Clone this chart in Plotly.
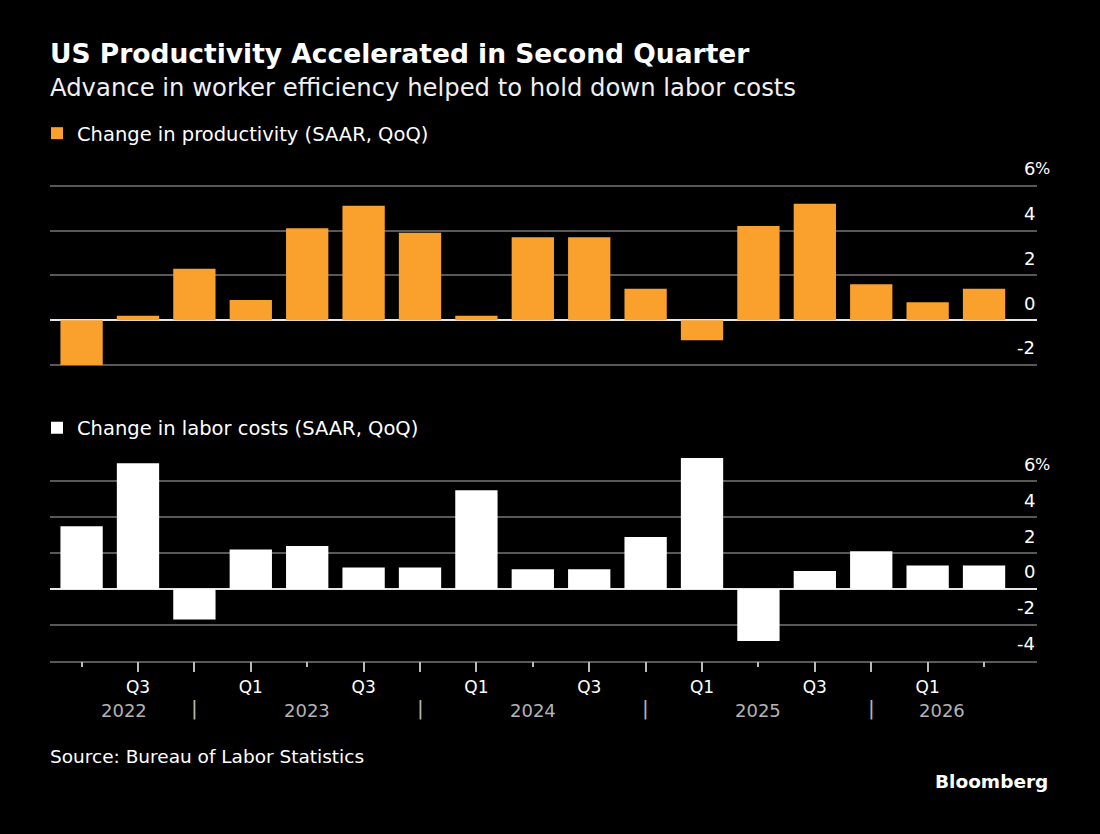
import numpy as np
import plotly.graph_objects as go

# quarters shown on the axis, Q2 2022 .. Q2 2026
quarters = ["Q2", "Q3", "Q4", "Q1", "Q2", "Q3", "Q4", "Q1", "Q2",
            "Q3", "Q4", "Q1", "Q2", "Q3", "Q4", "Q1", "Q2"]
years = ["2022", "2022", "2022", "2023", "2023", "2023", "2023", "2024", "2024",
         "2024", "2024", "2025", "2025", "2025", "2025", "2026", "2026"]

# change in productivity, SAAR QoQ (%)
productivity = [-2.0, 0.2, 2.3, 0.9, 4.1, 5.1, 3.9, 0.2, 3.7,
                3.7, 1.4, -0.9, 4.2, 5.2, 1.6, 0.8, 1.4]
# change in unit labor costs, SAAR QoQ (%)
labor_costs = [3.5, 7.0, -1.7, 2.2, 2.4, 1.2, 1.2, 5.5, 1.1,
               1.1, 2.9, 7.3, -2.9, 1.0, 2.1, 1.3, 1.3]

top_ticks = [-2, 0, 2, 4, 6]
bottom_ticks = [-4, -2, 0, 2, 4, 6]

FONT = "DejaVu Sans, sans-serif"
ORANGE = "#F9A12C"
GRID = "#585858"
BG = "#000000"
H = 834

x = np.arange(len(quarters))
xrange_ = [-0.56, 16.93]

fig = go.Figure()
fig.add_trace(go.Bar(x=x, y=productivity, marker_color=ORANGE, marker_line_width=0,
                     name="Change in productivity (SAAR, QoQ)", xaxis="x", yaxis="y",
                     legend="legend"))
fig.add_trace(go.Bar(x=x, y=labor_costs, marker_color="#FFFFFF", marker_line_width=0,
                     name="Change in labor costs (SAAR, QoQ)", xaxis="x2", yaxis="y2",
                     legend="legend2"))

# major ticks at every quarter except Q2, labels only on Q1/Q3
major = [i for i, q in enumerate(quarters) if q != "Q2"]
minor = [i for i, q in enumerate(quarters) if q == "Q2"]
major_text = [quarters[i] if quarters[i] in ("Q1", "Q3") else "" for i in major]

# pixel rows of the panels: top 6 -> 185.7, -2 -> 365 ; bottom 6 -> 481.3, -4 -> 660.7
top_pu = (365 - 185.7) / 8
bot_pu = (660.7 - 481.3) / 10
top_range = [-2.05, 6.05]
bot_range = [-4, 7.5]
top_dom = [1 - (365 + 0.05 * top_pu) / H, 1 - (185.7 - 0.05 * top_pu) / H]
bot_dom = [1 - 660.7 / H, 1 - (660.7 - 11.5 * bot_pu) / H]

xdom = [50 / 1100, 1036.5 / 1100]
fig.update_layout(
    width=1100, height=H,
    paper_bgcolor=BG, plot_bgcolor=BG,
    margin=dict(l=0, r=0, t=0, b=0),
    bargap=0.25,
    font=dict(family=FONT, color="white", size=17),
    xaxis=dict(domain=xdom, range=xrange_, anchor="y", showticklabels=False,
               ticks="", showgrid=False, zeroline=False, showline=False),
    yaxis=dict(domain=top_dom, range=top_range,
               tickvals=top_ticks, showticklabels=False, ticks="",
               gridcolor=GRID, gridwidth=1.5, zeroline=True, zerolinecolor="#E6E6E6",
               zerolinewidth=2, anchor="x"),
    xaxis2=dict(domain=xdom, range=xrange_, anchor="y2", showgrid=False, zeroline=False,
                showline=True, linecolor=GRID, linewidth=1.5,
                tickmode="array", tickvals=major, ticktext=major_text,
                ticks="outside", ticklen=10, tickwidth=2, tickcolor="#BBBBBB",
                tickfont=dict(size=17, color="white"),
                minor=dict(tickmode="array", tickvals=minor, ticks="outside",
                           ticklen=5, tickwidth=2, tickcolor="#BBBBBB")),
    yaxis2=dict(domain=bot_dom, range=bot_range,
                tickvals=bottom_ticks, showticklabels=False, ticks="",
                gridcolor=GRID, gridwidth=1.5, zeroline=True, zerolinecolor="#E6E6E6",
                zerolinewidth=2, anchor="x2"),
    showlegend=True,
    legend=dict(x=37 / 1100, y=1 - 133.5 / H, xanchor="left", yanchor="middle",
                bgcolor="rgba(0,0,0,0)", font=dict(size=19.5, color="white")),
    legend2=dict(x=37 / 1100, y=1 - 428 / H, xanchor="left", yanchor="middle",
                 bgcolor="rgba(0,0,0,0)", font=dict(size=19.5, color="white")),
)

ann = []
# y tick labels sit just above their gridlines, right aligned
for axis, ticks in (("y", top_ticks), ("y2", bottom_ticks)):
    for v in ticks:
        ann.append(dict(xref="paper", x=1037 / 1100, yref=axis, y=v, text=str(v),
                        xanchor="right", yanchor="middle", yshift=17, showarrow=False,
                        font=dict(size=18, color="white")))
    ann.append(dict(xref="paper", x=1037 / 1100, yref=axis, y=max(ticks), text="%",
                    xanchor="left", yanchor="middle", yshift=17, xshift=-4,
                    showarrow=False, font=dict(size=16, color="white")))

# year labels centred between the year separators (drawn at Q4)
seps = [i for i, q in enumerate(quarters) if q == "Q4"]
edges = [-0.5] + seps + [len(quarters) - 0.5]
year_names = sorted(set(years))
for k, yr in enumerate(year_names):
    ann.append(dict(xref="x2", x=(edges[k] + edges[k + 1]) / 2, yref="paper",
                    y=1 - 710 / H, text=yr, showarrow=False, yanchor="middle",
                    font=dict(size=18, color="#B4B4B4")))
for s in seps:
    ann.append(dict(xref="x2", x=s, yref="paper", y=1 - 708 / H, text="|",
                    showarrow=False, yanchor="middle",
                    font=dict(size=20, color="#B4B4B4")))

ann += [
    dict(xref="paper", yref="paper", x=48 / 1100, y=1 - 53 / H, xanchor="left",
         yanchor="middle", showarrow=False,
         text="<b>US Productivity Accelerated in Second Quarter</b>",
         font=dict(size=26.5, color="white")),
    dict(xref="paper", yref="paper", x=48 / 1100, y=1 - 87 / H, xanchor="left",
         yanchor="middle", showarrow=False,
         text="Advance in worker efficiency helped to hold down labor costs",
         font=dict(size=24.3, color="#F0F0F0")),
    dict(xref="paper", yref="paper", x=48 / 1100, y=1 - 756 / H, xanchor="left",
         yanchor="middle", showarrow=False,
         text="Source: Bureau of Labor Statistics", font=dict(size=18.5, color="white")),
    dict(xref="paper", yref="paper", x=1050 / 1100, y=1 - 781 / H, xanchor="right",
         yanchor="middle", showarrow=False, text="<b>Bloomberg</b>",
         font=dict(size=18.5, color="white")),
]
fig.update_layout(annotations=ann)

fig.write_html("out.html", config={"displayModeBar": False},
               post_script="document.body.style.margin='0';"
                           "document.body.style.overflow='hidden';")
